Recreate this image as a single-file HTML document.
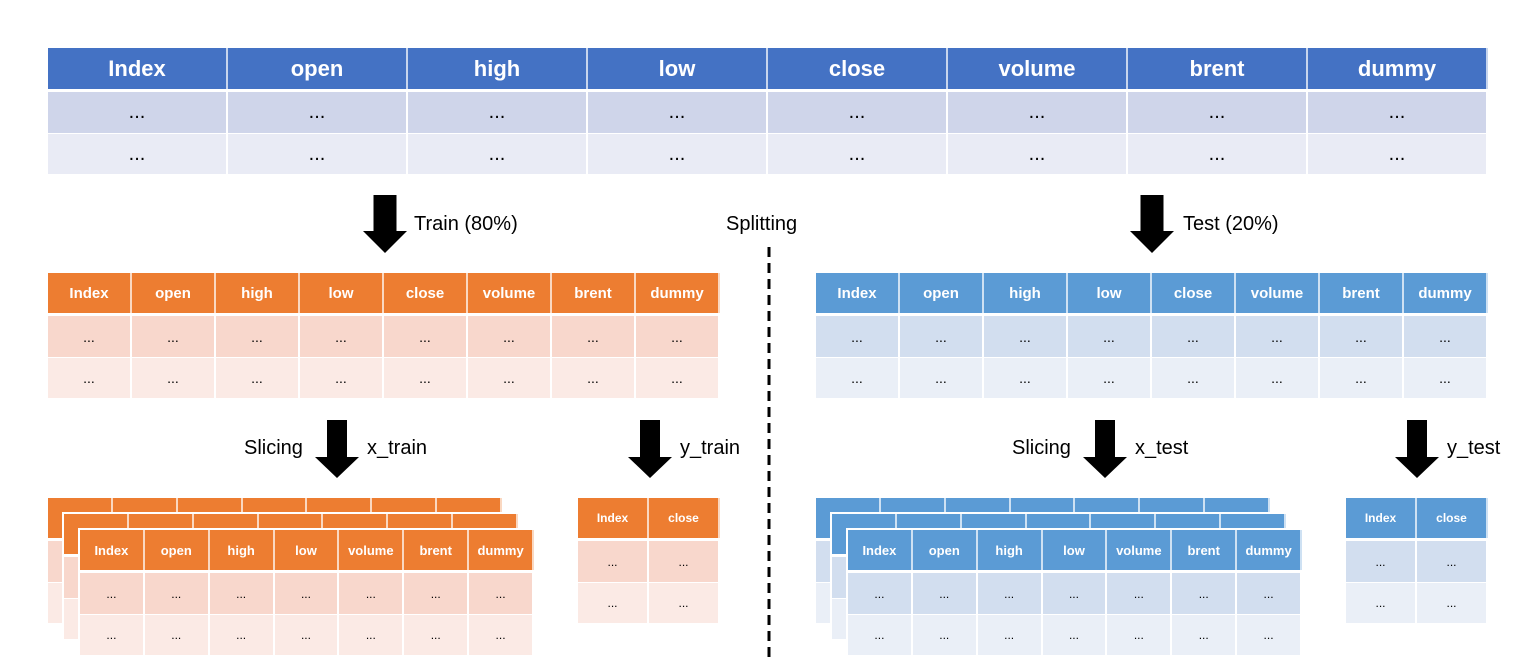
<!DOCTYPE html>
<html><head><meta charset="utf-8"><style>
body{margin:0;width:1536px;height:672px;background:#fff;position:relative;overflow:hidden;font-family:"Liberation Sans","DejaVu Sans",sans-serif}
.c{position:absolute;box-sizing:border-box;display:flex;align-items:center;justify-content:center;color:#000}
.h{color:#fff;font-weight:bold}
.lbl{position:absolute;font-size:20px;color:#000;white-space:nowrap;line-height:1}
.bk{position:absolute;background:#fff}
</style></head><body>
<div id="root"></div>
<div class="lbl" style="left:414px;top:214px">Train (80%)</div>
<div class="lbl" style="left:726px;top:214px">Splitting</div>
<div class="lbl" style="left:1183px;top:214px">Test (20%)</div>
<div class="lbl" style="left:244px;top:438px">Slicing</div>
<div class="lbl" style="left:367px;top:438px">x_train</div>
<div class="lbl" style="left:680px;top:438px">y_train</div>
<div class="lbl" style="left:1012px;top:438px">Slicing</div>
<div class="lbl" style="left:1135px;top:438px">x_test</div>
<div class="lbl" style="left:1447px;top:438px">y_test</div>
<svg style="position:absolute;left:0;top:0" width="1536" height="672">
<line x1="769" y1="247" x2="769" y2="662" stroke="#000" stroke-width="3" stroke-dasharray="10,6"/>
<g id="arrows"></g>
</svg>
<script>
const root=document.getElementById('root');
const allCols=['Index','open','high','low','close','volume','brent','dummy'];
const xCols=['Index','open','high','low','volume','brent','dummy'];
const yCols=['Index','close'];
function table(name,x,y,w,cols,hh,rh,hc,r1,r2,fs,hfs,showText){
  const cw=w/cols.length;
  const b=document.createElement('div');
  b.className='bk';
  
  
  b.style.cssText=`left:${x-2}px;top:${y-2}px;width:${w+4}px;height:${hh+3+2*rh+4}px`;
  root.appendChild(b);
  cols.forEach((c,i)=>{
    const d=document.createElement('div');
    d.className='c h';
    
    
    d.style.cssText=`left:${x+i*cw}px;top:${y}px;width:${cw}px;height:${hh}px;background:${hc};border-right:2px solid rgba(255,255,255,.7);font-size:${hfs}px`;
    if(showText)d.textContent=c;
    root.appendChild(d);
    [r1,r2].forEach((bg,j)=>{
      const e=document.createElement('div');
      e.className='c';
      
      
      e.style.cssText=`left:${x+i*cw}px;top:${y+hh+3+j*rh}px;width:${cw}px;height:${rh}px;background:${bg};border-right:2px solid #fff;border-top:${j?1:0}px solid #fff;font-size:${fs}px`;
      if(showText)e.textContent='...';
      root.appendChild(e);
    });
  });
}
const OR=['#ED7D31','#F8D7CC','#FBEAE5'],BL=['#5B9BD5','#D2DEEF','#EAEFF7'];
table('full-table',48,48,1440,allCols,41,41,'#4472C4','#CFD5EA','#E9EBF5',20,22,true);
table('train-table',48,273,672,allCols,40,41,OR[0],OR[1],OR[2],14,15,true);
table('test-table',816,273,672,allCols,40,41,BL[0],BL[1],BL[2],14,15,true);
[[48,498,false],[64,514,false],[80,530,true]].forEach(([x,y,t],k)=>table('x-train-layer'+k,x,y,454,xCols,40,41,OR[0],OR[1],OR[2],12,13,t));
[[816,498,false],[832,514,false],[848,530,true]].forEach(([x,y,t],k)=>table('x-test-layer'+k,x,y,454,xCols,40,41,BL[0],BL[1],BL[2],12,13,t));
table('y-train-table',578,498,142,yCols,40,41,OR[0],OR[1],OR[2],12,12,true);
table('y-test-table',1346,498,142,yCols,40,41,BL[0],BL[1],BL[2],12,12,true);
const ag=document.getElementById('arrows');
[['train-arrow',385,195,231,253,23,44],['test-arrow',1152,195,231,253,23,44],
 ['x-train-arrow',337,420,457,478,20,44],['y-train-arrow',650,420,457,478,20,44],
 ['x-test-arrow',1105,420,457,478,20,44],['y-test-arrow',1417,420,457,478,20,44]].forEach(([n,cx,t,hs,tip,sw,hw])=>{
  const p=document.createElementNS('http://www.w3.org/2000/svg','polygon');
  p.setAttribute('points',`${cx-sw/2},${t} ${cx+sw/2},${t} ${cx+sw/2},${hs} ${cx+hw/2},${hs} ${cx},${tip} ${cx-hw/2},${hs} ${cx-sw/2},${hs}`);
  p.setAttribute('fill','#000');
  
  
  ag.appendChild(p);
});
</script>
</body></html>
